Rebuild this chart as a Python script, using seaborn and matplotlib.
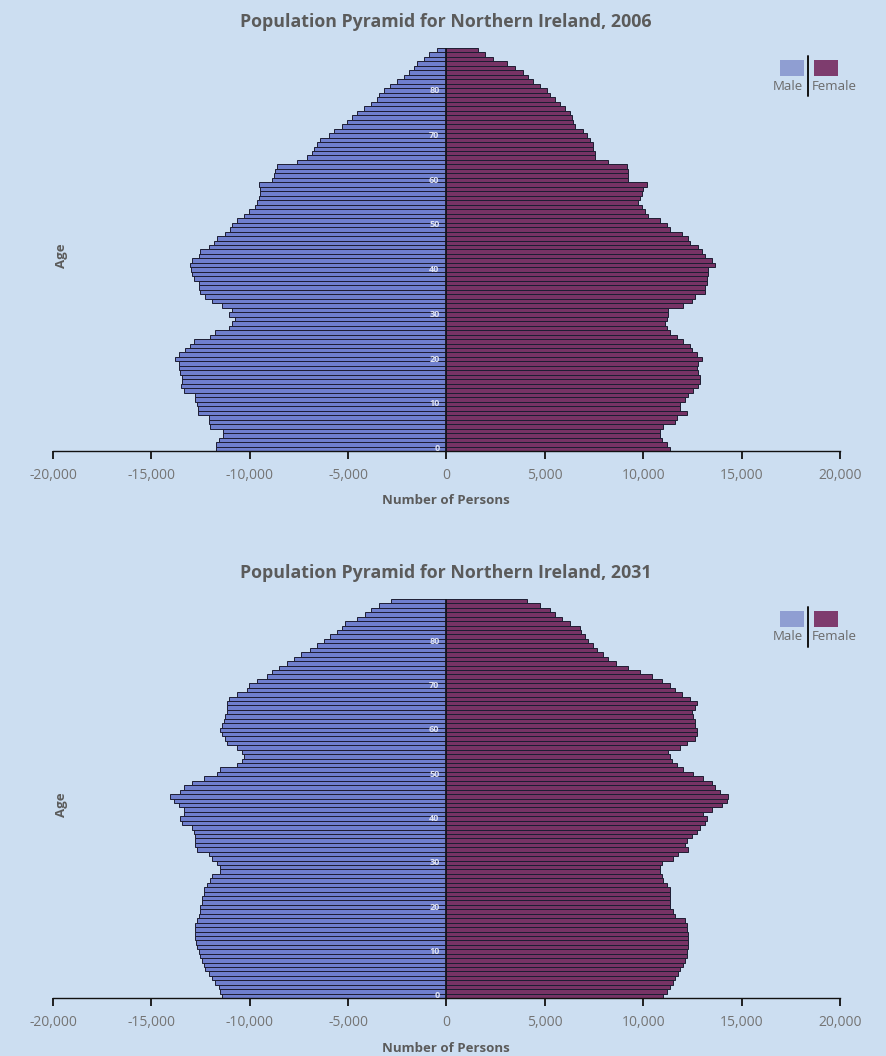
import pandas as pd
import matplotlib
matplotlib.use("Agg")
import matplotlib.pyplot as plt
import seaborn as sns
from matplotlib.patches import Rectangle
from matplotlib.lines import Line2D

# single years of age, 0 at the bottom
ages = list(range(90))

male_2006 = [11710, 11710, 11580, 11350, 11350, 12000, 12090, 12090, 12640, 12640,
             12680, 12760, 12760, 13360, 13490, 13440, 13440, 13530, 13610, 13610,
             13780, 13610, 13270, 13020, 12850, 12000, 11750, 11070, 10900, 10730,
             11070, 10900, 11410, 11920, 12250, 12510, 12590, 12590, 12850, 12930,
             12980, 13020, 12930, 12590, 12510, 12090, 11830, 11660, 11240, 10980,
             10900, 10640, 10310, 10050, 9710, 9630, 9540, 9460, 9460, 9540,
             8860, 8780, 8700, 8610, 7590, 7090, 6830, 6750, 6580, 6410,
             5980, 5730, 5310, 5050, 4800, 4540, 4200, 3860, 3530, 3440,
             3190, 2850, 2510, 2170, 1920, 1660, 1490, 1150, 900, 470]

female_2006 = [11360, 11190, 10930, 10850, 10850, 11020, 11610, 11700, 12200, 11870,
               11870, 12120, 12290, 12540, 12800, 12880, 12880, 12800, 12710, 12800,
               12970, 12710, 12460, 12370, 12030, 11700, 11360, 11190, 11100, 11190,
               11270, 11270, 12030, 12460, 12630, 13140, 13140, 13220, 13220, 13310,
               13310, 13650, 13470, 13140, 12970, 12800, 12370, 12290, 11950, 11360,
               11190, 10850, 10250, 10090, 9920, 9750, 9830, 9920, 10000, 10170,
               9240, 9240, 9240, 9150, 8220, 7540, 7540, 7460, 7460, 7290,
               7120, 6950, 6530, 6440, 6360, 6270, 6020, 5760, 5510, 5250,
               5090, 4750, 4410, 4150, 3900, 3470, 3050, 2370, 1950, 1610]

male_2031 = [11410, 11490, 11580, 11750, 11920, 12090, 12250, 12340, 12420, 12510,
             12590, 12680, 12710, 12760, 12760, 12760, 12760, 12680, 12590, 12510,
             12510, 12420, 12420, 12340, 12340, 12170, 12000, 11920, 11490, 11490,
             11660, 11920, 12090, 12680, 12760, 12760, 12760, 12850, 12930, 13440,
             13530, 13360, 13360, 13610, 13870, 14030, 13530, 13360, 12930, 12340,
             11660, 11490, 10640, 10390, 10310, 10390, 10640, 11150, 11240, 11410,
             11490, 11410, 11320, 11240, 11150, 11150, 11150, 11070, 10640, 10140,
             10050, 9630, 9120, 8860, 8530, 8100, 7760, 7420, 6920, 6580,
             6240, 5900, 5560, 5310, 5140, 4540, 4120, 3860, 3440, 2800]

female_2031 = [11020, 11190, 11360, 11530, 11610, 11780, 11870, 12030, 12120, 12200,
               12240, 12290, 12290, 12290, 12290, 12240, 12200, 12120, 11610, 11530,
               11360, 11360, 11360, 11360, 11360, 11190, 11020, 10930, 10850, 10850,
               10930, 11530, 11780, 12290, 12120, 12200, 12460, 12710, 12880, 13140,
               13220, 13050, 13470, 13980, 14240, 14320, 13900, 13650, 13470, 13050,
               12540, 12030, 11700, 11440, 11360, 11270, 11870, 12200, 12630, 12710,
               12710, 12630, 12630, 12540, 12460, 12630, 12710, 12370, 11950, 11610,
               11360, 10930, 10420, 9830, 9240, 8640, 8220, 7970, 7630, 7460,
               7200, 7030, 6860, 6780, 6270, 5850, 5510, 5250, 4750, 4070]

x_ticks = [-20000, -15000, -10000, -5000, 0, 5000, 10000, 15000, 20000]
x_ticklabels = ['-20,000', '-15,000', '-10,000', '-5,000', '0',
                '5,000', '10,000', '15,000', '20,000']
age_labels = [0, 10, 20, 30, 40, 50, 60, 70, 80]

bg = '#CCDEF1'
male_color = '#6F7FCD'
female_color = '#773365'
edge = '#1d1d33'
text_gray = '#5b5b5b'

sns.set_style('white')
plt.rcParams['font.family'] = ['Open Sans', 'DejaVu Sans']

W, H = 887, 1056
fig = plt.figure(figsize=(W / 100, H / 100), dpi=100, facecolor=bg)


def px(x, y):
    return x / W, 1 - y / H


def pyramid(top, bottom, male, female, year):
    l, b = px(53, bottom)
    r, t = px(840, top)
    ax = fig.add_axes([l, b, r - l, t - b])
    ax.set_facecolor(bg)

    df = pd.DataFrame({
        'age': ages + ages,
        'persons': [-v for v in male] + list(female),
        'sex': ['Male'] * len(ages) + ['Female'] * len(ages),
    })
    sns.barplot(data=df, x='persons', y='age', hue='sex', orient='y',
                native_scale=True, dodge=False, width=1, errorbar=None,
                saturation=1, palette={'Male': male_color, 'Female': female_color},
                edgecolor=edge, linewidth=0.7, legend=False, ax=ax)

    ax.axvline(0, color='#15151f', lw=1.3)
    ax.set_xlim(-20000, 20000)
    ax.set_ylim(-0.5, 89.5)
    ax.set_xticks(x_ticks)
    ax.set_xticklabels(x_ticklabels)
    ax.set_yticks([])
    ax.set_xlabel('')
    ax.set_ylabel('')
    for s in ['left', 'right', 'top']:
        ax.spines[s].set_visible(False)
    ax.spines['bottom'].set_color('#111111')
    ax.spines['bottom'].set_linewidth(1.0)
    ax.tick_params(axis='x', direction='out', length=6, width=1.3,
                   color='#111111', labelcolor='#747474', labelsize=10, pad=6,
                   bottom=True)

    for a in age_labels:
        ax.text(-350, a, str(a), ha='right', va='center', fontsize=6.5,
                fontweight='bold', color='#dfe4f4')

    # title, axis names
    tx, ty = px(446, top - 26)
    fig.text(tx, ty, f'Population Pyramid for Northern Ireland, {year}',
             ha='center', va='center', fontsize=12.8, fontweight='bold',
             color=text_gray)
    lx, ly = px(446, bottom + 50)
    fig.text(lx, ly, 'Number of Persons', ha='center', va='center',
             fontsize=9.5, fontweight='bold', color=text_gray)
    ax_x, ax_y = px(62, (top + bottom) / 2 + 6)
    fig.text(ax_x, ax_y, 'Age', ha='center', va='center', rotation=90,
             fontsize=9.5, fontweight='bold', color=text_gray)

    # legend in the top right corner
    sw_top = top + 12
    for x0, col in [(780, '#8F9ED2'), (814, '#7E3C6E')]:
        x_, y_ = px(x0, sw_top + 16)
        fig.add_artist(Rectangle((x_, y_), 24 / W, 16 / H,
                                 transform=fig.transFigure, color=col, lw=0))
    sx, sy0 = px(808.5, sw_top - 4)
    _, sy1 = px(808.5, sw_top + 36)
    fig.add_artist(Line2D([sx, sx], [sy0, sy1], transform=fig.transFigure,
                          color='#111111', lw=1.4))
    mx, my = px(803, sw_top + 26)
    fig.text(mx, my, 'Male', ha='right', va='center', fontsize=9.5,
             color='#6a6a6a')
    fx, fy = px(812, sw_top + 26)
    fig.text(fx, fy, 'Female', ha='left', va='center', fontsize=9.5,
             color='#6a6a6a')
    return ax


pyramid(48, 451, male_2006, female_2006, 2006)
pyramid(599, 998, male_2031, female_2031, 2031)

fig.savefig('out.png', dpi=100, facecolor=bg)
